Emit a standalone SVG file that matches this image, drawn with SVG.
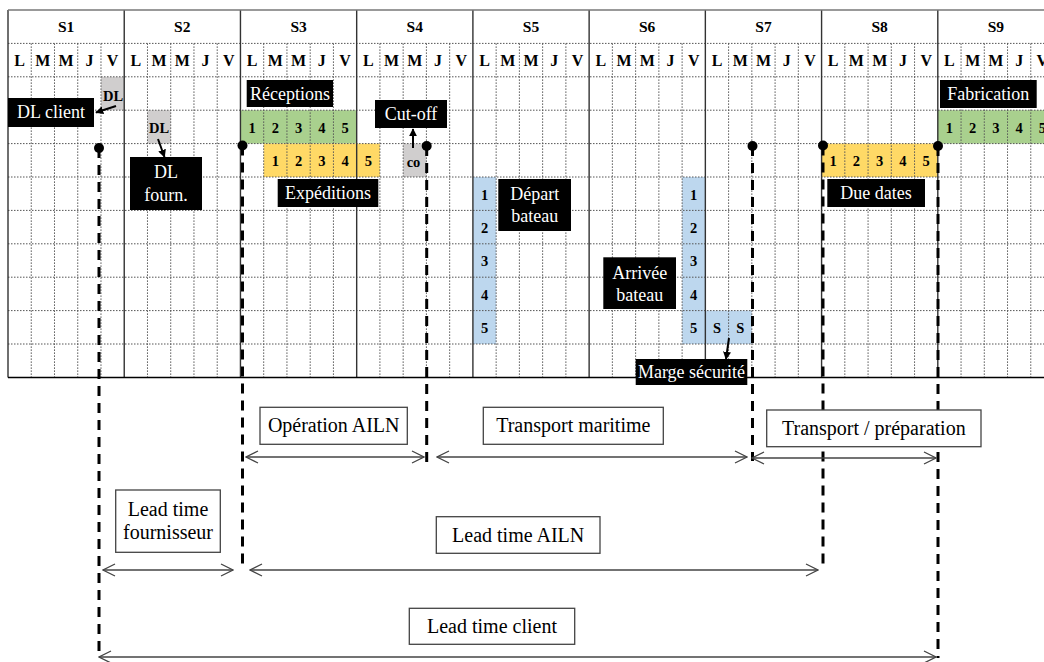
<svg xmlns="http://www.w3.org/2000/svg" width="1044" height="662" viewBox="0 0 1044 662">
<style>
text{font-family:"Liberation Serif","Times New Roman",serif;}
.hd{font-size:15.5px;font-weight:bold;text-anchor:middle;fill:#000;}
.dy{font-size:16px;font-weight:bold;text-anchor:middle;fill:#000;}
.nb{font-size:14.5px;font-weight:bold;text-anchor:middle;fill:#000;}
.bl{font-size:18px;text-anchor:middle;fill:#fff;}
.lb{font-size:20px;text-anchor:middle;fill:#000;}
.dot{stroke:#555;stroke-width:1;stroke-dasharray:1.5 1.5;fill:none;}
.wk{stroke:#333;stroke-width:1.4;fill:none;}
.g{fill:#a9d08e;}.y{fill:#ffd966;}.b{fill:#bdd7ee;}.gr{fill:#d0cece;}
.box{fill:#000;}
.wb{fill:#fff;stroke:#444;stroke-width:1.3;}
.dash{stroke:#000;stroke-width:3;stroke-dasharray:10 7;fill:none;}
.dbl{stroke:#444;stroke-width:1.3;fill:none;marker-start:url(#open);marker-end:url(#open);}
.sa{stroke:#000;stroke-width:2;fill:none;marker-end:url(#solid);}
</style>
<defs>
<marker id="open" viewBox="0 0 14 14" refX="13" refY="7" markerWidth="14" markerHeight="14" markerUnits="userSpaceOnUse" orient="auto-start-reverse">
<path d="M1,1 L13,7 L1,13" fill="none" stroke="#444" stroke-width="1.3"/>
</marker>
<marker id="solid" viewBox="0 0 10 10" refX="9" refY="5" markerWidth="8" markerHeight="8" markerUnits="userSpaceOnUse" orient="auto">
<path d="M0,0 L10,5 L0,10 z" fill="#000"/>
</marker>
</defs>
<rect width="1044" height="662" fill="#fff"/>

<g id="cells">
<rect class="gr" x="100.98" y="76.8" width="23.25" height="33.4"/>
<rect class="gr" x="147.47" y="110.2" width="23.25" height="33.4"/>
<rect class="g" x="240.45" y="110.2" width="116.23" height="33.4"/>
<rect class="y" x="263.7" y="143.6" width="116.22" height="33.4"/>
<rect class="gr" x="403.17" y="143.6" width="23.24" height="33.4"/>
<rect class="b" x="472.9" y="177" width="23.25" height="167"/>
<rect class="b" x="682.11" y="177" width="23.24" height="167"/>
<rect class="b" x="705.35" y="310.6" width="46.49" height="33.4"/>
<rect class="y" x="821.58" y="143.6" width="116.22" height="33.4"/>
<rect class="g" x="937.8" y="110.2" width="116.2" height="33.4"/>
</g>

<g id="grid">
<path class="dot" d="M8 43.4H1044M8 76.8H1044M8 110.2H1044M8 143.6H1044M8 177H1044M8 210.4H1044M8 243.8H1044M8 277.2H1044M8 310.6H1044M8 344H1044"/>
<path class="dot" d="M31.25 43.4V377.4M54.49 43.4V377.4M77.74 43.4V377.4M100.98 43.4V377.4M147.47 43.4V377.4M170.72 43.4V377.4M193.96 43.4V377.4M217.21 43.4V377.4M263.7 43.4V377.4M286.94 43.4V377.4M310.19 43.4V377.4M333.43 43.4V377.4M379.92 43.4V377.4M403.17 43.4V377.4M426.41 43.4V377.4M449.66 43.4V377.4M496.15 43.4V377.4M519.39 43.4V377.4M542.64 43.4V377.4M565.88 43.4V377.4M612.37 43.4V377.4M635.62 43.4V377.4M658.86 43.4V377.4M682.11 43.4V377.4M728.6 43.4V377.4M751.84 43.4V377.4M775.09 43.4V377.4M798.33 43.4V377.4M844.82 43.4V377.4M868.07 43.4V377.4M891.31 43.4V377.4M914.56 43.4V377.4M961.05 43.4V377.4M984.29 43.4V377.4M1007.54 43.4V377.4M1030.78 43.4V377.4"/>
<path class="wk" d="M8 10V377.4M124.23 10V377.4M240.45 10V377.4M356.68 10V377.4M472.9 10V377.4M589.13 10V377.4M705.35 10V377.4M821.58 10V377.4M937.8 10V377.4"/>
<path d="M8 10H1044" stroke="#777" stroke-width="1.5"/>
<path d="M8 377.4H1044" stroke="#000" stroke-width="1.5"/>
</g>

<g id="header">
<text class="hd" x="66.1" y="32">S1</text>
<text class="hd" x="182.3" y="32">S2</text>
<text class="hd" x="298.6" y="32">S3</text>
<text class="hd" x="414.8" y="32">S4</text>
<text class="hd" x="531" y="32">S5</text>
<text class="hd" x="647.2" y="32">S6</text>
<text class="hd" x="763.5" y="32">S7</text>
<text class="hd" x="879.7" y="32">S8</text>
<text class="hd" x="995.9" y="32">S9</text>
</g>

<g id="days">
<text class="dy" y="66"><tspan x="19.6">L</tspan><tspan x="42.9">M</tspan><tspan x="66.1">M</tspan><tspan x="89.4">J</tspan><tspan x="112.6">V</tspan><tspan x="135.8">L</tspan><tspan x="159.1">M</tspan><tspan x="182.3">M</tspan><tspan x="205.6">J</tspan><tspan x="228.8">V</tspan><tspan x="252.1">L</tspan><tspan x="275.3">M</tspan><tspan x="298.6">M</tspan><tspan x="321.8">J</tspan><tspan x="345.1">V</tspan><tspan x="368.3">L</tspan><tspan x="391.5">M</tspan><tspan x="414.8">M</tspan><tspan x="438">J</tspan><tspan x="461.3">V</tspan><tspan x="484.5">L</tspan><tspan x="507.8">M</tspan><tspan x="531">M</tspan><tspan x="554.3">J</tspan><tspan x="577.5">V</tspan><tspan x="600.8">L</tspan><tspan x="624">M</tspan><tspan x="647.2">M</tspan><tspan x="670.5">J</tspan><tspan x="693.7">V</tspan><tspan x="717">L</tspan><tspan x="740.2">M</tspan><tspan x="763.5">M</tspan><tspan x="786.7">J</tspan><tspan x="810">V</tspan><tspan x="833.2">L</tspan><tspan x="856.4">M</tspan><tspan x="879.7">M</tspan><tspan x="902.9">J</tspan><tspan x="926.2">V</tspan><tspan x="949.4">L</tspan><tspan x="972.7">M</tspan><tspan x="995.9">M</tspan><tspan x="1019.2">J</tspan><tspan x="1042.4">V</tspan></text>
</g>

<g id="cell-texts">
<text class="nb" x="113" y="101">DL</text>
<text class="nb" x="159.1" y="133">DL</text>
<text class="nb" y="133"><tspan x="252.1">1</tspan><tspan x="275.3">2</tspan><tspan x="298.6">3</tspan><tspan x="321.8">4</tspan><tspan x="345.1">5</tspan></text>
<text class="nb" y="166"><tspan x="275.3">1</tspan><tspan x="298.6">2</tspan><tspan x="321.8">3</tspan><tspan x="345.1">4</tspan><tspan x="368.3">5</tspan></text>
<text class="nb" x="413.5" y="167">co</text>
<text class="nb" x="484.5"><tspan x="484.5" y="199.5">1</tspan><tspan x="484.5" y="233">2</tspan><tspan x="484.5" y="266.4">3</tspan><tspan x="484.5" y="299.8">4</tspan><tspan x="484.5" y="333.2">5</tspan></text>
<text class="nb" x="693.7"><tspan x="693.7" y="199.5">1</tspan><tspan x="693.7" y="233">2</tspan><tspan x="693.7" y="266.4">3</tspan><tspan x="693.7" y="299.8">4</tspan><tspan x="693.7" y="333.2">5</tspan></text>
<text class="nb" y="333.2"><tspan x="717">S</tspan><tspan x="740.2">S</tspan></text>
<text class="nb" y="166"><tspan x="833.2">1</tspan><tspan x="856.4">2</tspan><tspan x="879.7">3</tspan><tspan x="902.9">4</tspan><tspan x="926.2">5</tspan></text>
<text class="nb" y="133"><tspan x="949.4">1</tspan><tspan x="972.7">2</tspan><tspan x="995.9">3</tspan><tspan x="1019.2">4</tspan><tspan x="1042.4">5</tspan></text>
</g>

<g id="connectors">
<line class="sa" x1="116" y1="106" x2="96" y2="112.5"/>
<line class="sa" x1="158" y1="139" x2="164.5" y2="157"/>
<line class="sa" x1="413" y1="148" x2="413" y2="129"/>
<line class="sa" x1="729" y1="338" x2="726" y2="359"/>
<line class="dash" x1="99" y1="148" x2="99" y2="656"/>
<line class="dash" x1="242.5" y1="145.5" x2="242.5" y2="568"/>
<line class="dash" x1="426.7" y1="146" x2="426.7" y2="464"/>
<line class="dash" x1="752.5" y1="146" x2="752.5" y2="461"/>
<line class="dash" x1="823" y1="145.5" x2="823" y2="568"/>
<line class="dash" x1="938" y1="146" x2="938" y2="658"/>
<circle cx="99" cy="148" r="5"/>
<circle cx="242.5" cy="145.5" r="5"/>
<circle cx="426.7" cy="146" r="5"/>
<circle cx="752.5" cy="146" r="5"/>
<circle cx="823" cy="145.5" r="5"/>
<circle cx="938" cy="146" r="5"/>
<line class="dbl" x1="246" y1="457" x2="424" y2="457"/>
<line class="dbl" x1="437" y1="457" x2="747" y2="457"/>
<line class="dbl" x1="752" y1="458" x2="936" y2="458"/>
<line class="dbl" x1="103" y1="570" x2="233" y2="570"/>
<line class="dbl" x1="250" y1="570" x2="818" y2="570"/>
<line class="dbl" x1="99" y1="657" x2="936" y2="657"/>
</g>

<g id="dl-client"><rect class="box" x="8" y="98" width="86" height="29"/><text class="bl" x="51" y="118">DL client</text></g>
<g id="dl-fourn"><rect class="box" x="130" y="157" width="72" height="53"/><text class="bl" x="166"><tspan x="166" y="178">DL</tspan><tspan x="166" y="201">fourn.</tspan></text></g>
<g id="receptions"><rect class="box" x="246.7" y="80" width="86.3" height="27"/><text class="bl" x="290" y="99.5">Réceptions</text></g>
<g id="cutoff"><rect class="box" x="375" y="100" width="72" height="28"/><text class="bl" x="411" y="120">Cut-off</text></g>
<g id="expeditions"><rect class="box" x="277.7" y="179" width="100.6" height="28"/><text class="bl" x="328" y="199">Expéditions</text></g>
<g id="depart"><rect class="box" x="498.3" y="179" width="72.7" height="52"/><text class="bl" x="534.7"><tspan x="534.7" y="200">Départ</tspan><tspan x="534.7" y="222">bateau</tspan></text></g>
<g id="arrivee"><rect class="box" x="603.3" y="257.3" width="72.7" height="51.7"/><text class="bl" x="639.7"><tspan x="639.7" y="278.5">Arrivée</tspan><tspan x="639.7" y="300.5">bateau</tspan></text></g>
<g id="marge"><rect class="box" x="635.7" y="359" width="111.6" height="26"/><text class="bl" x="691.5" y="378">Marge sécurité</text></g>
<g id="fabrication"><rect class="box" x="940" y="80" width="96.7" height="28"/><text class="bl" x="988.3" y="100">Fabrication</text></g>
<g id="due-dates"><rect class="box" x="827.3" y="179" width="97.7" height="28"/><text class="bl" x="876" y="199">Due dates</text></g>

<g id="op-ailn"><rect class="wb" x="260" y="407.3" width="147.3" height="37"/><text class="lb" x="333.7" y="432">Opération AILN</text></g>
<g id="transport-maritime"><rect class="wb" x="483.3" y="407.3" width="180" height="37"/><text class="lb" x="573.3" y="432">Transport maritime</text></g>
<g id="transport-prep"><rect class="wb" x="766.7" y="410" width="214.3" height="36.7"/><text class="lb" x="873.8" y="434.5">Transport / préparation</text></g>
<g id="lt-fourn"><rect class="wb" x="115.7" y="490" width="104.6" height="62.3"/><text class="lb" x="168"><tspan x="168" y="516">Lead time</tspan><tspan x="168" y="538.5">fournisseur</tspan></text></g>
<g id="lt-ailn"><rect class="wb" x="436.3" y="516.7" width="163.7" height="36.6"/><text class="lb" x="518.2" y="541.5">Lead time AILN</text></g>
<g id="lt-client"><rect class="wb" x="409.3" y="608.3" width="165.4" height="36"/><text class="lb" x="492" y="633">Lead time client</text></g>
</svg>
